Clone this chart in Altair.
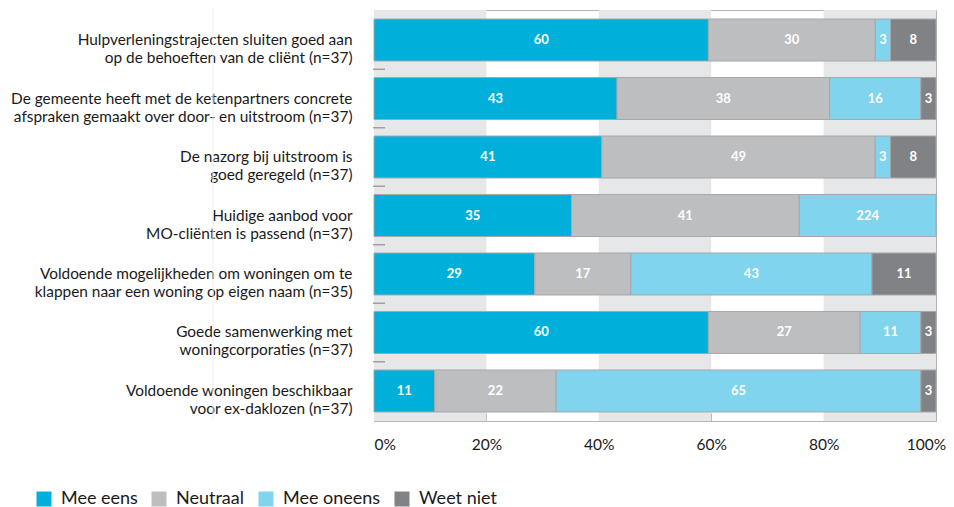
import altair as alt
import pandas as pd

statements = [
    "Hulpverleningstrajecten sluiten goed aan|op de behoeften van de cliënt (n=37)",
    "De gemeente heeft met de ketenpartners concrete|afspraken gemaakt over door- en uitstroom (n=37)",
    "De nazorg bij uitstroom is|goed geregeld (n=37)",
    "Huidige aanbod voor|MO-cliënten is passend (n=37)",
    "Voldoende mogelijkheden om woningen om te|klappen naar een woning op eigen naam (n=35)",
    "Goede samenwerking met|woningcorporaties (n=37)",
    "Voldoende woningen beschikbaar|voor ex-daklozen (n=37)",
]
categories = ["Mee eens", "Neutraal", "Mee oneens", "Weet niet"]
colors = ["#00b0db", "#bcbec0", "#80d4ed", "#808285"]

# percentages
mee_eens = [59.5, 43.2, 40.5, 35.1, 28.6, 59.5, 10.8]
neutraal = [29.7, 37.8, 48.6, 40.5, 17.1, 27.0, 21.6]
mee_oneens = [2.7, 16.2, 2.7, 24.3, 42.9, 10.8, 64.9]
weet_niet = [8.1, 2.7, 8.1, 0.0, 11.4, 2.7, 2.7]

# printed labels
lab_mee_eens = ["60", "43", "41", "35", "29", "60", "11"]
lab_neutraal = ["30", "38", "49", "41", "17", "27", "22"]
lab_mee_oneens = ["3", "16", "3", "224", "43", "11", "65"]
lab_weet_niet = ["8", "3", "8", "", "11", "3", "3"]

tick_values = [0, 0.2, 0.4, 0.6, 0.8, 1.0]
band_start = [0.0, 0.4, 0.8]
band_end = [0.2, 0.6, 1.0]

series = [mee_eens, neutraal, mee_oneens, weet_niet]
labels = [lab_mee_eens, lab_neutraal, lab_mee_oneens, lab_weet_niet]

rows = []
for i, st in enumerate(statements):
    total = sum(s[i] for s in series)
    cum = 0.0
    for k, cat in enumerate(categories):
        v = series[k][i]
        x0 = cum / total
        cum += v
        x1 = cum / total
        rows.append({"statement": st, "categorie": cat, "order": k,
                     "x0": x0, "x1": x1, "mid": (x0 + x1) / 2,
                     "label": labels[k][i], "value": v})
df = pd.DataFrame(rows)
df = df[df["value"] > 0]

bands = pd.DataFrame({"start": band_start, "end": band_end})
dash_df = pd.DataFrame({"statement": statements[1:]})

W, H = 562, 411
FONT = "Lato"

xscale = alt.Scale(domain=[0, 1], nice=False)
yscale = alt.Scale(domain=statements, paddingInner=0.282, paddingOuter=0.154)

bg = alt.Chart(bands).mark_rect(color="#e6e7e8").encode(
    x=alt.X("start:Q", scale=xscale, title=None,
            axis=alt.Axis(values=tick_values, format="%", offset=-8, tickSize=8,
                          domain=False, grid=False, tickColor="#b0b0b0",
                          labelPadding=16, labelFont=FONT, labelFontSize=15.5,
                          labelColor="#1a1a1a",
                          labelAlign={"condition": {"test": "datum.value === 0", "value": "left"}, "value": "center"},
                          labelOffset={"condition": {"test": "datum.value === 1", "value": -10}, "value": 0})),
    x2="end:Q",
    y=alt.value(0),
    y2=alt.value(H),
)

bars = alt.Chart(df).mark_bar(stroke="#a6a8ab", strokeWidth=1).encode(
    y=alt.Y("statement:N", scale=yscale, sort=statements, title=None,
            axis=alt.Axis(labelExpr="split(datum.label, '|')", ticks=False, domain=False,
                          labelPadding=22, labelFont=FONT, labelFontSize=15.4,
                          labelColor="#1a1a1a", labelLineHeight=18, labelLimit=0)),
    x=alt.X("x0:Q", scale=xscale),
    x2="x1:Q",
    color=alt.Color("categorie:N", scale=alt.Scale(domain=categories, range=colors),
                    legend=alt.Legend(orient="none", legendX=-339, legendY=480,
                                      direction="horizontal", columns=4, title=None,
                                      symbolType="square", symbolSize=225,
                                      symbolStrokeWidth=0, labelFont=FONT,
                                      labelFontSize=18, labelColor="#1a1a1a",
                                      labelOffset=8, columnPadding=12)),
    order="order:Q",
)

text = alt.Chart(df).mark_text(color="white", font=FONT, fontSize=13, fontWeight="bold",
                               baseline="middle", align="center").encode(
    y=alt.Y("statement:N", scale=yscale, sort=statements),
    x=alt.X("mid:Q", scale=xscale),
    text="label:N",
)

dashes = alt.Chart(dash_df).mark_rule(color="#a0a0a0", strokeWidth=1.5, yOffset=-29.25).encode(
    y=alt.Y("statement:N", scale=yscale, sort=statements),
    x=alt.value(-1),
    x2=alt.value(11),
)

faint = alt.Chart(dash_df.head(1)).mark_rule(color="#eeeeee", strokeWidth=1).encode(
    x=alt.value(-161),
    y=alt.value(-10),
    y2=alt.value(H),
)

chart = alt.layer(faint, bg, dashes, bars, text).properties(
    width=W, height=H,
    autosize=alt.AutoSizeParams(type="none"),
    padding={"left": 366, "top": 2, "right": 10, "bottom": 86},
).configure_view(stroke="#b5b5b5", strokeWidth=1)

chart.save("out.html", embed_options={"renderer": "svg", "actions": False})
